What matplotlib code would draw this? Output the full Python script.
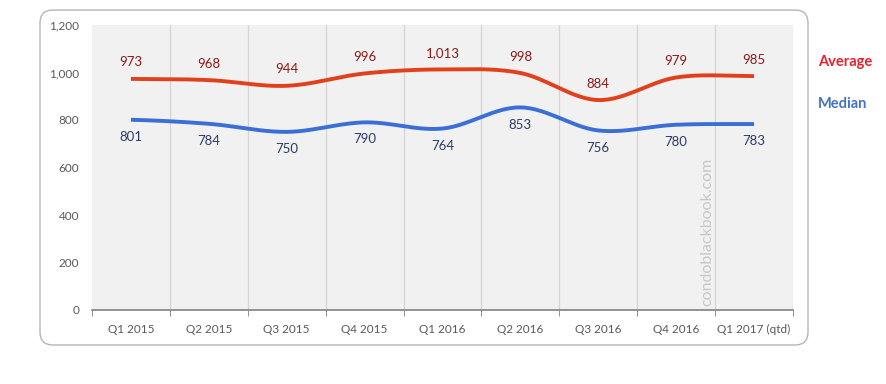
import numpy as np
import matplotlib
matplotlib.use("Agg")
import matplotlib.pyplot as plt
from matplotlib.patches import FancyBboxPatch

plt.rcParams["font.family"] = ["Lato", "DejaVu Sans"]

categories = ["Q1 2015", "Q2 2015", "Q3 2015", "Q4 2015", "Q1 2016",
              "Q2 2016", "Q3 2016", "Q4 2016", "Q1 2017 (qtd)"]
average = [973, 968, 944, 996, 1013, 998, 884, 979, 985]
median = [801, 784, 750, 790, 764, 853, 756, 780, 783]
yticks = [0, 200, 400, 600, 800, 1000, 1200]


def smooth(xs, ys, n=30):
    xs = np.asarray(xs, float)
    ys = np.asarray(ys, float)
    px = np.concatenate([[2 * xs[0] - xs[1]], xs, [2 * xs[-1] - xs[-2]]])
    py = np.concatenate([[ys[0]], ys, [ys[-1]]])
    ox, oy = [], []
    for i in range(1, len(px) - 2):
        t = np.linspace(0, 1, n, endpoint=False)
        for arr, out in ((px, ox), (py, oy)):
            p0, p1, p2, p3 = arr[i - 1], arr[i], arr[i + 1], arr[i + 2]
            out.extend(0.5 * ((2 * p1) + (-p0 + p2) * t +
                              (2 * p0 - 5 * p1 + 4 * p2 - p3) * t ** 2 +
                              (-p0 + 3 * p1 - 3 * p2 + p3) * t ** 3))
    ox.append(xs[-1])
    oy.append(ys[-1])
    return np.array(ox), np.array(oy)


fig = plt.figure(figsize=(8.87, 3.84), dpi=100)
fig.patch.set_facecolor("white")

bg = fig.add_axes([0, 0, 1, 1], zorder=0)
bg.set_xlim(0, 887)
bg.set_ylim(0, 384)
bg.axis("off")
frame = FancyBboxPatch((40, 384 - 345), 768, 335,
                       boxstyle="round,pad=0,rounding_size=13",
                       facecolor="white", edgecolor="#b5b5b5", linewidth=1.0)
bg.add_patch(frame)
bg.text(818, 384 - 62, "Average", color="#e8202a", fontsize=10.5,
        fontweight="bold", va="center", ha="left")
bg.text(818, 384 - 104, "Median", color="#4472c4", fontsize=10.5,
        fontweight="bold", va="center", ha="left")

ax = fig.add_axes([92 / 887, (384 - 310) / 384, 701 / 887, 285 / 384], zorder=1)
ax.set_facecolor("#f1f1f1")
x = np.arange(len(categories))
ax.set_xlim(-0.5, len(categories) - 0.5)
ax.set_ylim(0, 1200)

for b in np.arange(-0.5, len(categories), 1.0)[1:]:
    ax.axvline(b, color="#d4d4d4", linewidth=0.9, zorder=1)

sx, sy = smooth(x, average)
ax.plot(sx, sy, color="#e2401c", linewidth=2.8, solid_capstyle="butt", zorder=3)
sx, sy = smooth(x, median)
ax.plot(sx, sy, color="#3a6fd6", linewidth=2.8, solid_capstyle="butt", zorder=3)

for xi, v in zip(x, average):
    ax.annotate(f"{v:,}", (xi, v), xytext=(0, 7.5), textcoords="offset points",
                ha="center", va="bottom", fontsize=9.5, color="#8b1a1a")
for xi, v in zip(x, median):
    ax.annotate(f"{v:,}", (xi, v), xytext=(0, -8), textcoords="offset points",
                ha="center", va="top", fontsize=9.5, color="#2c3a66")

ax.set_xticks(x)
ax.set_xticklabels(categories, fontsize=8.5, color="#595959")
ax.set_xticks(np.arange(-0.5, len(categories), 1.0), minor=True)
ax.tick_params(axis="x", which="major", length=0, pad=10)
ax.tick_params(axis="x", which="minor", length=4, color="#808080", direction="out")
ax.set_yticks(yticks)
ax.set_yticklabels([f"{v:,}" for v in yticks], fontsize=8.5, color="#595959")
ax.tick_params(axis="y", length=0, pad=9)

for s in ["top", "right", "left"]:
    ax.spines[s].set_visible(False)
ax.spines["bottom"].set_color("#808080")
ax.spines["bottom"].set_linewidth(1.2)

ax.text(7.4, 15, "condoblackbook.com", rotation=90, fontsize=11.5,
        color="#c8c8c8", ha="center", va="bottom", zorder=2)

fig.savefig("out.png", dpi=100)
